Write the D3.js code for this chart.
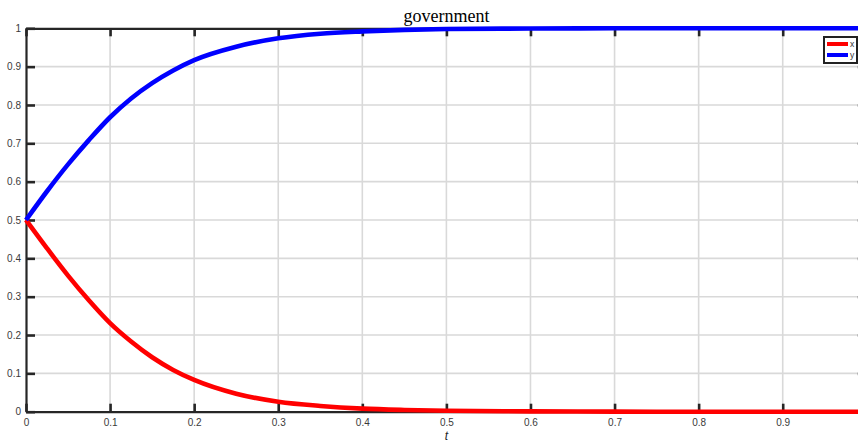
<!DOCTYPE html>
<html>
<head>
<meta charset="utf-8">
<script src="https://cdn.jsdelivr.net/npm/d3@7"></script>
<style>
  html, body { margin: 0; padding: 0; background: #fff; overflow: hidden; }
  svg { display: block; }
</style>
</head>
<body>
<div id="chart"></div>
<script>
// time values (t) and the two series
const tVals = [0, 0.025, 0.05, 0.075, 0.1, 0.125, 0.15, 0.175, 0.2, 0.25, 0.3, 0.35, 0.4, 0.45, 0.5, 0.6, 0.7, 0.8, 0.9, 1.0];
const xVals = [0.5, 0.426, 0.355, 0.29, 0.231, 0.183, 0.142, 0.109, 0.083, 0.047, 0.026, 0.015, 0.008, 0.0045, 0.0025, 0.0008, 0.0002, 0, 0, 0];
const yVals = [0.5, 0.575, 0.645, 0.709, 0.768, 0.817, 0.857, 0.89, 0.917, 0.952, 0.974, 0.986, 0.992, 0.996, 0.998, 0.9995, 1, 1, 1, 1];

const xTicks = [0, 0.1, 0.2, 0.3, 0.4, 0.5, 0.6, 0.7, 0.8, 0.9, 1];
const yTicks = [0, 0.1, 0.2, 0.3, 0.4, 0.5, 0.6, 0.7, 0.8, 0.9, 1];

const seriesNames = ["x", "y"];
const seriesColors = ["#ff0000", "#0000ff"];

const W = 858, H = 444;
// plot box (right edge runs past the window, as in the figure)
const m = { l: 26, t: 28.3, r: 866.8, b: 411.7 };

const svg = d3.select("#chart").append("svg")
  .attr("width", W)
  .attr("height", H);

const x = d3.scaleLinear().domain([0, 1]).range([m.l, m.r]);
const y = d3.scaleLinear().domain([0, 1]).range([m.b, m.t]);

// grid
const grid = svg.append("g");
grid.selectAll("line.gx")
  .data(xTicks.slice(1))
  .enter().append("line")
  .attr("x1", d => x(d)).attr("x2", d => x(d))
  .attr("y1", m.t).attr("y2", m.b)
  .attr("stroke", "#d9d9d9").attr("stroke-width", 1.6);
grid.selectAll("line.gy")
  .data(yTicks.slice(1, -1))
  .enter().append("line")
  .attr("x1", m.l).attr("x2", m.r)
  .attr("y1", d => y(d)).attr("y2", d => y(d))
  .attr("stroke", "#d9d9d9").attr("stroke-width", 1.6);

// axes with inward ticks
const axisCol = "#262626";
const font = "'Liberation Sans', Arial, sans-serif";
const fmt = d => d === 1 ? "1" : d === 0 ? "0" : d3.format(".1f")(d);
// the 1 on the t axis falls outside the window
const fmtX = d => d === 1 ? "" : fmt(d);

const axBottom = svg.append("g")
  .attr("transform", "translate(0," + m.b + ")")
  .call(d3.axisBottom(x).tickValues(xTicks).tickSizeInner(-8).tickSizeOuter(0).tickPadding(7).tickFormat(fmtX));
const axTop = svg.append("g")
  .attr("transform", "translate(0," + m.t + ")")
  .call(d3.axisTop(x).tickValues(xTicks).tickSizeInner(-8).tickSizeOuter(0).tickFormat(""));
const axLeft = svg.append("g")
  .attr("transform", "translate(" + m.l + ",0)")
  .call(d3.axisLeft(y).tickValues(yTicks).tickSizeInner(-9).tickSizeOuter(0).tickPadding(5).tickFormat(fmt));
const axRight = svg.append("g")
  .attr("transform", "translate(" + m.r + ",0)")
  .call(d3.axisRight(y).tickValues(yTicks).tickSizeInner(-9).tickSizeOuter(0).tickFormat(""));

[axBottom, axTop, axLeft, axRight].forEach(g => {
  g.select(".domain").attr("stroke", axisCol).attr("stroke-width", 2.2);
  g.selectAll(".tick line").attr("stroke", axisCol).attr("stroke-width", 2.6);
  g.selectAll(".tick text").attr("fill", "#3a3a3a").attr("font-family", font).attr("font-size", "10px");
});

// series lines
const series = [xVals, yVals];
const line = d3.line()
  .x((d, i) => x(tVals[i]))
  .y(d => y(d))
  .curve(d3.curveMonotoneX);

svg.selectAll("path.series")
  .data(series)
  .enter().append("path")
  .attr("class", "series")
  .attr("d", d => line(d))
  .attr("fill", "none")
  .attr("stroke", (d, i) => seriesColors[i])
  .attr("stroke-width", 4.6)
  .attr("stroke-linejoin", "round");

// title and x label
svg.append("text")
  .attr("x", (m.l + m.r) / 2)
  .attr("y", 22)
  .attr("text-anchor", "middle")
  .attr("font-family", "'Liberation Serif', 'Times New Roman', serif")
  .attr("font-size", "18px")
  .attr("fill", "#000")
  .text("government");

svg.append("text")
  .attr("x", (m.l + m.r) / 2)
  .attr("y", 440)
  .attr("text-anchor", "middle")
  .attr("font-family", font)
  .attr("font-style", "italic")
  .attr("font-size", "12px")
  .attr("fill", "#262626")
  .text("t");

// legend
const lg = svg.append("g").attr("transform", "translate(824,37)");
lg.append("rect")
  .attr("width", 33).attr("height", 26)
  .attr("fill", "#fff").attr("stroke", "#222").attr("stroke-width", 2);
seriesNames.forEach((name, i) => {
  lg.append("line")
    .attr("x1", 3).attr("x2", 24)
    .attr("y1", 7 + i * 11).attr("y2", 7 + i * 11)
    .attr("stroke", seriesColors[i]).attr("stroke-width", 4);
  lg.append("text")
    .attr("x", 26).attr("y", 10 + i * 11)
    .attr("font-family", font).attr("font-size", "8.5px")
    .attr("fill", "#333")
    .text(name);
});
</script>
</body>
</html>
